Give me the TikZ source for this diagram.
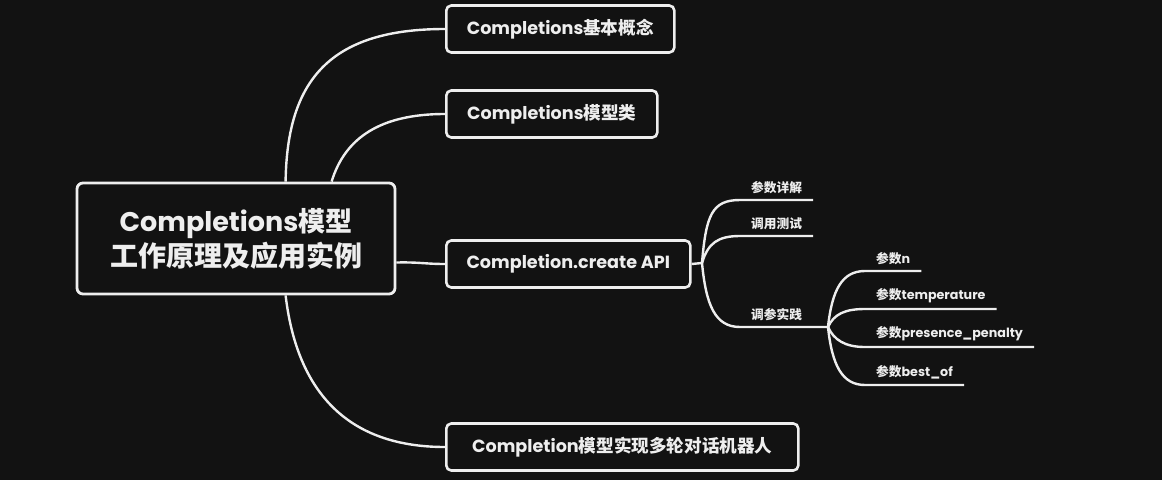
\documentclass[tikz,border=0pt]{standalone}
\usepackage{fontspec}
\usetikzlibrary{calc}
\setmainfont{Poppins}
\newfontfamily\cjk{Noto Sans CJK SC}
\definecolor{bg}{HTML}{121212}
\definecolor{fg}{HTML}{EEEEEE}
\begin{document}
\begin{tikzpicture}[x=1pt,y=-1pt,
  line width=2.4pt,
  conn/.style={draw=fg,line width=2.4pt},
  topicbox/.style={draw=fg,fill=bg,rounded corners=5pt,line width=2.6pt,text=fg,
    font=\bfseries\fontsize{17.6}{20}\selectfont,minimum height=47pt,anchor=west,inner xsep=12pt},
  rootbox/.style={draw=fg,fill=bg,rounded corners=6pt,line width=2.8pt,text=fg,align=center,
    font=\bfseries\fontsize{27}{35}\selectfont,minimum width=318pt,minimum height=111pt},
  leaf/.style={text=fg,font=\bfseries\fontsize{12.7}{15}\selectfont,anchor=south west,inner xsep=10pt,inner ysep=5pt}
]
\fill[bg] (0,0) rectangle (1162,480);
\useasboundingbox (0,0) rectangle (1162,480);

% root
\node[rootbox] (root) at (236,238.5) {Completions{\cjk 模型}\\{\cjk\fontsize{28}{35}\selectfont 工作原理及应用实例}};

% main topics
\node[topicbox,minimum width=228pt] (b1) at (445,29) {Completions{\cjk 基本概念}};
\node[topicbox,minimum width=211pt] (b2) at (445,114) {Completions{\cjk 模型类}};
\node[topicbox,minimum width=244pt] (b3) at (445,264) {Completion.create API};
\node[topicbox,minimum width=352pt] (b4) at (445,447) {Completion{\cjk 模型实现多轮对话机器人}};

% root connectors
\coordinate (r1) at ($(root.north west)+(210,0)$);
\coordinate (r2) at ($(root.north west)+(256,0)$);
\coordinate (r4) at ($(root.south west)+(210,0)$);
\coordinate (r3) at ($(root.east)+(0,24)$);
\draw[conn] (r1) .. controls (287,80) and (330,29) .. (b1.west);
\draw[conn] (r2) .. controls (345,138) and (380,114) .. (b2.west);
\draw[conn] (r3) .. controls (420,262) and (425,264) .. (b3.west);
\draw[conn] (r4) .. controls (298,400) and (355,447) .. (b4.west);

% sub topics of b3
\coordinate (s0) at (702,263);
\draw[conn] (b3.east) -- (s0);
\node[leaf] (l1) at (740,200) {\cjk 参数详解};
\node[leaf] (l2) at (740,236) {\cjk 调用测试};
\node[leaf] (l3) at (740,327) {\cjk 调参实践};
\coordinate (s1) at (828,327);
\draw[conn] (s0) .. controls (706,215) and (712,200) .. (l1.south west) -- (l1.south east);
\draw[conn] (s0) .. controls (708,243) and (718,236) .. (l2.south west) -- (l2.south east);
\draw[conn] (s0) .. controls (706,305) and (715,327) .. (l3.south west) -- (s1);

% sub-sub topics
\node[leaf] (m1) at (865,271) {{\cjk 参数}n};
\node[leaf] (m2) at (865,309) {{\cjk 参数}temperature};
\node[leaf] (m3) at (865,347) {{\cjk 参数}presence\_penalty};
\node[leaf] (m4) at (865,385) {{\cjk 参数}best\_of};
\draw[conn] (s1) .. controls (832,290) and (842,271) .. (m1.south west) -- (m1.south east);
\draw[conn] (s1) .. controls (834,314) and (845,309) .. (m2.south west) -- (m2.south east);
\draw[conn] (s1) .. controls (834,340) and (845,347) .. (m3.south west) -- (m3.south east);
\draw[conn] (s1) .. controls (832,365) and (842,385) .. (m4.south west) -- (m4.south east);
\end{tikzpicture}
\end{document}
